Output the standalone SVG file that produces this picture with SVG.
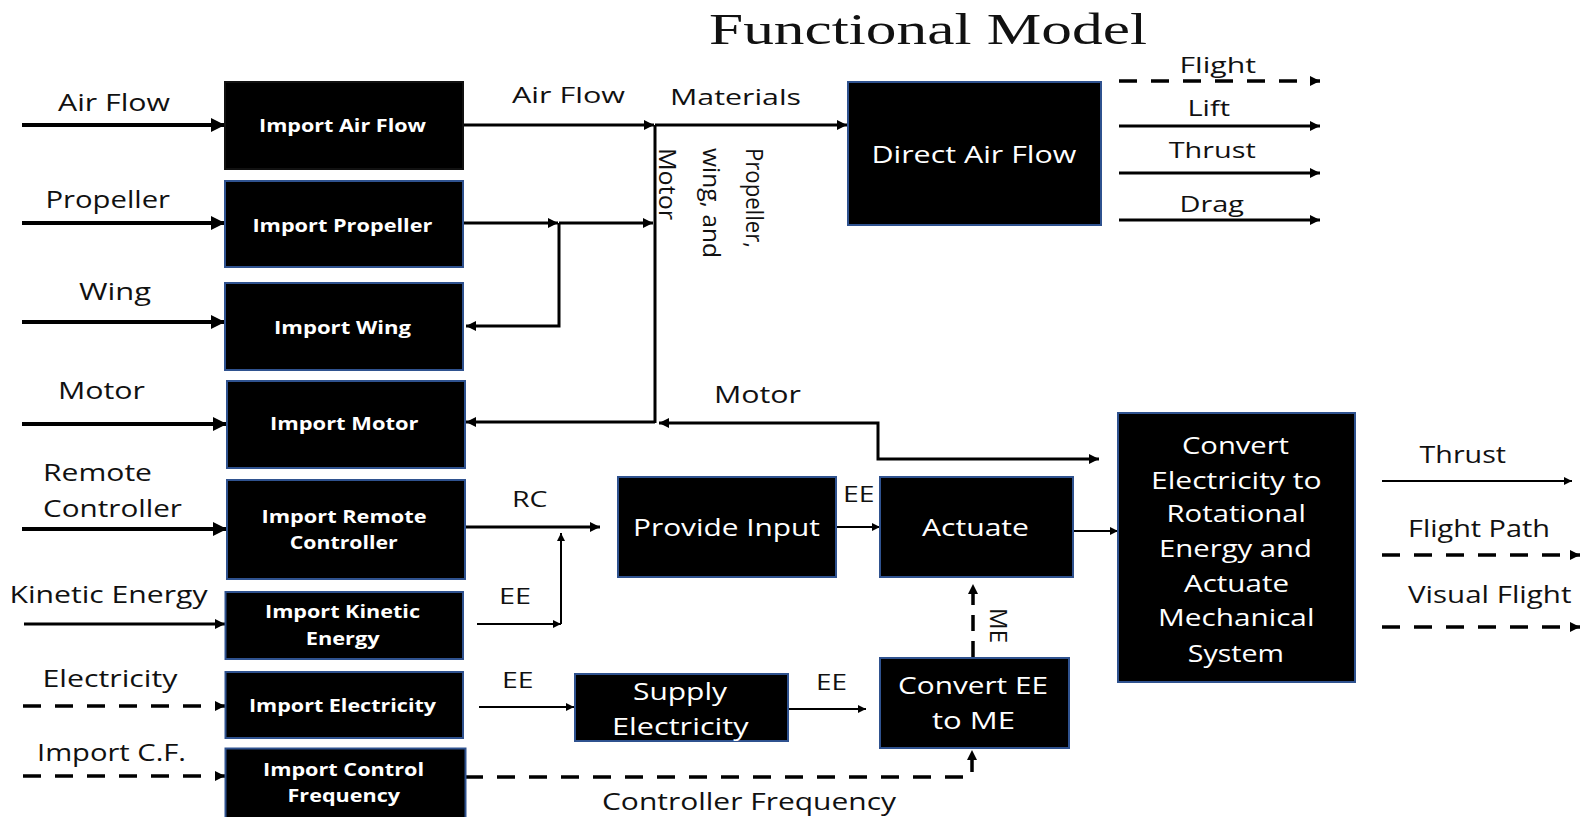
<svg xmlns="http://www.w3.org/2000/svg" width="1592" height="817" viewBox="0 0 1592 817">
<style>
.lbl{font-family:"Open Sans","Liberation Sans",sans-serif;font-size:24px;fill:#111}
.sm{font-size:22px}
.bx{font-family:"Open Sans","Liberation Sans",sans-serif;font-weight:bold;font-size:18px;fill:#fff}
.wt{font-family:"Open Sans","Liberation Sans",sans-serif;font-size:23px;fill:#fff}
.title{font-family:"Liberation Serif","Times New Roman",serif;font-size:45px;fill:#111}
.box{fill:#000;stroke:#2F528F;stroke-width:2}
.c{fill:none;stroke:#000}
.t4{stroke-width:4}
.t3{stroke-width:3}
.t2{stroke-width:2}
.d{stroke-dasharray:18 14;stroke-width:3.5}
</style>
<defs>
<marker id="ah" viewBox="0 0 10 10" refX="10" refY="5" markerWidth="18" markerHeight="14" markerUnits="userSpaceOnUse" orient="auto-start-reverse"><path d="M0,0 L10,5 L0,10 z" fill="#000"/></marker>
<marker id="am" viewBox="0 0 10 10" refX="10" refY="5" markerWidth="12" markerHeight="10" markerUnits="userSpaceOnUse" orient="auto-start-reverse"><path d="M0,0 L10,5 L0,10 z" fill="#000"/></marker>
<marker id="as" viewBox="0 0 10 10" refX="10" refY="5" markerWidth="10" markerHeight="8" markerUnits="userSpaceOnUse" orient="auto-start-reverse"><path d="M0,0 L10,5 L0,10 z" fill="#000"/></marker>
</defs>
<rect width="1592" height="817" fill="#fff"/>
<text class="title" x="709" y="44" textLength="438" lengthAdjust="spacingAndGlyphs">Functional Model</text>

<g id="connectors">
<path class="c t4" d="M22,125 H225" marker-end="url(#ah)"/>
<path class="c t4" d="M22,223 H225" marker-end="url(#ah)"/>
<path class="c t4" d="M22,322 H225" marker-end="url(#ah)"/>
<path class="c t4" d="M22,424 H227" marker-end="url(#ah)"/>
<path class="c t4" d="M22,529 H227" marker-end="url(#ah)"/>
<path class="c t3" d="M24,624 H225" marker-end="url(#am)"/>
<path class="c d" d="M23,706 H225" marker-end="url(#am)"/>
<path class="c d" d="M23,776 H225" marker-end="url(#am)"/>
<path class="c t3" d="M463,125 H654" marker-end="url(#am)"/>
<path class="c t3" d="M655,125 H847" marker-end="url(#am)"/>
<path class="c t3" d="M655,125 V423"/>
<path class="c t3" d="M463,223 H558" marker-end="url(#am)"/>
<path class="c t3" d="M559,223 H653" marker-end="url(#am)"/>
<path class="c t3" d="M559,223 V326 H466" marker-end="url(#am)"/>
<path class="c t3" d="M655,422 H466" marker-end="url(#am)"/>
<path class="c t3" d="M659,423 H878 V459 H1099" marker-start="url(#am)" marker-end="url(#am)"/>
<path class="c t3" d="M465,527 H600" marker-end="url(#am)"/>
<path class="c t2" d="M477,624 H561" marker-end="url(#as)"/>
<path class="c t2" d="M561,624 V533" marker-end="url(#as)"/>
<path class="c t2" d="M479,707 H574" marker-end="url(#as)"/>
<path class="c t2" d="M788,709 H866" marker-end="url(#as)"/>
<path class="c t2" d="M836,527 H880" marker-end="url(#as)"/>
<path class="c t2" d="M1073,531 H1118" marker-end="url(#as)"/>
<path class="c d" style="stroke-dasharray:16 10" d="M973,657 V584" marker-end="url(#am)"/>
<path class="c d" d="M465,777 H972 V750" marker-end="url(#am)"/>
<path class="c d" d="M1119,81 H1320" marker-end="url(#am)"/>
<path class="c t3" d="M1119,126 H1320" marker-end="url(#am)"/>
<path class="c t3" d="M1119,173 H1320" marker-end="url(#am)"/>
<path class="c t3" d="M1119,220 H1320" marker-end="url(#am)"/>
<path class="c t2" d="M1382,481 H1572" marker-end="url(#as)"/>
<path class="c d" d="M1382,555 H1580" marker-end="url(#am)"/>
<path class="c d" d="M1382,627 H1580" marker-end="url(#am)"/>
</g>

<g id="labels">
<text class="lbl" x="58" y="110.5" textLength="112" lengthAdjust="spacingAndGlyphs">Air Flow</text>
<text class="lbl" x="45.5" y="207.5" textLength="124.5" lengthAdjust="spacingAndGlyphs">Propeller</text>
<text class="lbl" x="79" y="300" textLength="72" lengthAdjust="spacingAndGlyphs">Wing</text>
<text class="lbl" x="58" y="399" textLength="87" lengthAdjust="spacingAndGlyphs">Motor</text>
<text class="lbl" x="43" y="480.5" textLength="109" lengthAdjust="spacingAndGlyphs">Remote</text>
<text class="lbl" x="43" y="516.5" textLength="139" lengthAdjust="spacingAndGlyphs">Controller</text>
<text class="lbl" x="9.5" y="602.5" textLength="198" lengthAdjust="spacingAndGlyphs">Kinetic Energy</text>
<text class="lbl" x="42.5" y="686.5" textLength="135" lengthAdjust="spacingAndGlyphs">Electricity</text>
<text class="lbl" x="37" y="760.5" textLength="149" lengthAdjust="spacingAndGlyphs">Import C.F.</text>
<text class="lbl sm" x="512" y="103.3" textLength="113" lengthAdjust="spacingAndGlyphs">Air Flow</text>
<text class="lbl sm" x="670" y="105" textLength="131" lengthAdjust="spacingAndGlyphs">Materials</text>
<text class="lbl" x="714" y="403.3" textLength="87" lengthAdjust="spacingAndGlyphs">Motor</text>
<text class="lbl sm" x="512" y="506.7" textLength="35.5" lengthAdjust="spacingAndGlyphs">RC</text>
<text class="lbl sm" x="499" y="604" textLength="32" lengthAdjust="spacingAndGlyphs">EE</text>
<text class="lbl sm" x="502" y="688.3" textLength="31.5" lengthAdjust="spacingAndGlyphs">EE</text>
<text class="lbl sm" x="843" y="502.3" textLength="31.5" lengthAdjust="spacingAndGlyphs">EE</text>
<text class="lbl sm" x="816" y="690" textLength="31" lengthAdjust="spacingAndGlyphs">EE</text>
<text class="lbl" x="602" y="810" textLength="294" lengthAdjust="spacingAndGlyphs">Controller Frequency</text>
<text class="lbl sm" x="1179.5" y="72.7" textLength="76.5" lengthAdjust="spacingAndGlyphs">Flight</text>
<text class="lbl sm" x="1187.5" y="116" textLength="42.5" lengthAdjust="spacingAndGlyphs">Lift</text>
<text class="lbl sm" x="1168.7" y="158.3" textLength="87" lengthAdjust="spacingAndGlyphs">Thrust</text>
<text class="lbl sm" x="1179.5" y="211.7" textLength="64.5" lengthAdjust="spacingAndGlyphs">Drag</text>
<text class="lbl" x="1419.6" y="463.3" textLength="86.4" lengthAdjust="spacingAndGlyphs">Thrust</text>
<text class="lbl" x="1408" y="536.7" textLength="142" lengthAdjust="spacingAndGlyphs">Flight Path</text>
<text class="lbl" x="1408" y="603.3" textLength="163.4" lengthAdjust="spacingAndGlyphs">Visual Flight</text>
<text class="lbl" font-size="29" transform="translate(746,148) rotate(90)" textLength="100" lengthAdjust="spacingAndGlyphs">Propeller,</text>
<text class="lbl" font-size="29" transform="translate(703,148) rotate(90)" textLength="110" lengthAdjust="spacingAndGlyphs">wing, and</text>
<text class="lbl" font-size="29" transform="translate(659,148) rotate(90)" textLength="72" lengthAdjust="spacingAndGlyphs">Motor</text>
<text class="lbl" font-size="29" transform="translate(990,608) rotate(90)" textLength="35" lengthAdjust="spacingAndGlyphs">ME</text>
</g>

<g id="import-air-flow">
<rect x="225" y="82" width="238" height="87" fill="#000" stroke="#111" stroke-width="2"/>
<text class="bx" x="259" y="132.3" textLength="167" lengthAdjust="spacingAndGlyphs">Import Air Flow</text>
</g>
<g id="import-propeller">
<rect class="box" x="225" y="181" width="238" height="86"/>
<text class="bx" x="252.4" y="231.7" textLength="180" lengthAdjust="spacingAndGlyphs">Import Propeller</text>
</g>
<g id="import-wing">
<rect class="box" x="225" y="283" width="238" height="87"/>
<text class="bx" x="274" y="334" textLength="137" lengthAdjust="spacingAndGlyphs">Import Wing</text>
</g>
<g id="import-motor">
<rect class="box" x="227" y="381" width="238" height="87"/>
<text class="bx" x="270" y="430" textLength="148.5" lengthAdjust="spacingAndGlyphs">Import Motor</text>
</g>
<g id="import-remote-controller">
<rect class="box" x="227" y="480" width="238" height="99"/>
<text class="bx" x="261.5" y="522.7" textLength="165" lengthAdjust="spacingAndGlyphs">Import Remote</text>
<text class="bx" x="289.7" y="549.3" textLength="108" lengthAdjust="spacingAndGlyphs">Controller</text>
</g>
<g id="import-kinetic-energy">
<rect class="box" x="225.5" y="592" width="237.5" height="67"/>
<text class="bx" x="265" y="618.3" textLength="155" lengthAdjust="spacingAndGlyphs">Import Kinetic</text>
<text class="bx" x="305.7" y="645" textLength="74" lengthAdjust="spacingAndGlyphs">Energy</text>
</g>
<g id="import-electricity">
<rect class="box" x="225.5" y="672" width="237.5" height="66"/>
<text class="bx" x="249" y="711.7" textLength="187" lengthAdjust="spacingAndGlyphs">Import Electricity</text>
</g>
<g id="import-control-frequency">
<rect class="box" x="225.5" y="748.5" width="240" height="70"/>
<text class="bx" x="263" y="776" textLength="161" lengthAdjust="spacingAndGlyphs">Import Control</text>
<text class="bx" x="287.5" y="801.7" textLength="112.5" lengthAdjust="spacingAndGlyphs">Frequency</text>
</g>
<g id="direct-air-flow">
<rect class="box" x="848" y="82" width="253" height="143"/>
<text class="wt" x="871.4" y="162.7" textLength="205" lengthAdjust="spacingAndGlyphs">Direct Air Flow</text>
</g>
<g id="provide-input">
<rect class="box" x="618" y="477" width="218" height="100"/>
<text class="wt" x="633" y="535.7" textLength="187" lengthAdjust="spacingAndGlyphs">Provide Input</text>
</g>
<g id="actuate">
<rect class="box" x="880" y="477" width="193" height="100"/>
<text class="wt" x="922" y="535.7" textLength="107" lengthAdjust="spacingAndGlyphs">Actuate</text>
</g>
<g id="supply-electricity">
<rect class="box" x="575" y="674" width="213" height="67"/>
<text class="wt" x="633" y="700" textLength="94" lengthAdjust="spacingAndGlyphs">Supply</text>
<text class="wt" x="612" y="735" textLength="136.6" lengthAdjust="spacingAndGlyphs">Electricity</text>
</g>
<g id="convert-ee-to-me">
<rect class="box" x="880" y="658" width="189" height="90"/>
<text class="wt" x="898" y="694" textLength="150" lengthAdjust="spacingAndGlyphs">Convert EE</text>
<text class="wt" x="932" y="729" textLength="83" lengthAdjust="spacingAndGlyphs">to ME</text>
</g>
<g id="convert-electricity">
<rect class="box" x="1118" y="413" width="237" height="269"/>
<text class="wt" x="1182" y="454" textLength="107" lengthAdjust="spacingAndGlyphs">Convert</text>
<text class="wt" x="1151" y="489" textLength="170.6" lengthAdjust="spacingAndGlyphs">Electricity to</text>
<text class="wt" x="1166.5" y="521.7" textLength="139.5" lengthAdjust="spacingAndGlyphs">Rotational</text>
<text class="wt" x="1159" y="556.7" textLength="153" lengthAdjust="spacingAndGlyphs">Energy and</text>
<text class="wt" x="1184" y="592.3" textLength="105" lengthAdjust="spacingAndGlyphs">Actuate</text>
<text class="wt" x="1158" y="626" textLength="156.4" lengthAdjust="spacingAndGlyphs">Mechanical</text>
<text class="wt" x="1187.8" y="661.7" textLength="96.2" lengthAdjust="spacingAndGlyphs">System</text>
</g>
</svg>
